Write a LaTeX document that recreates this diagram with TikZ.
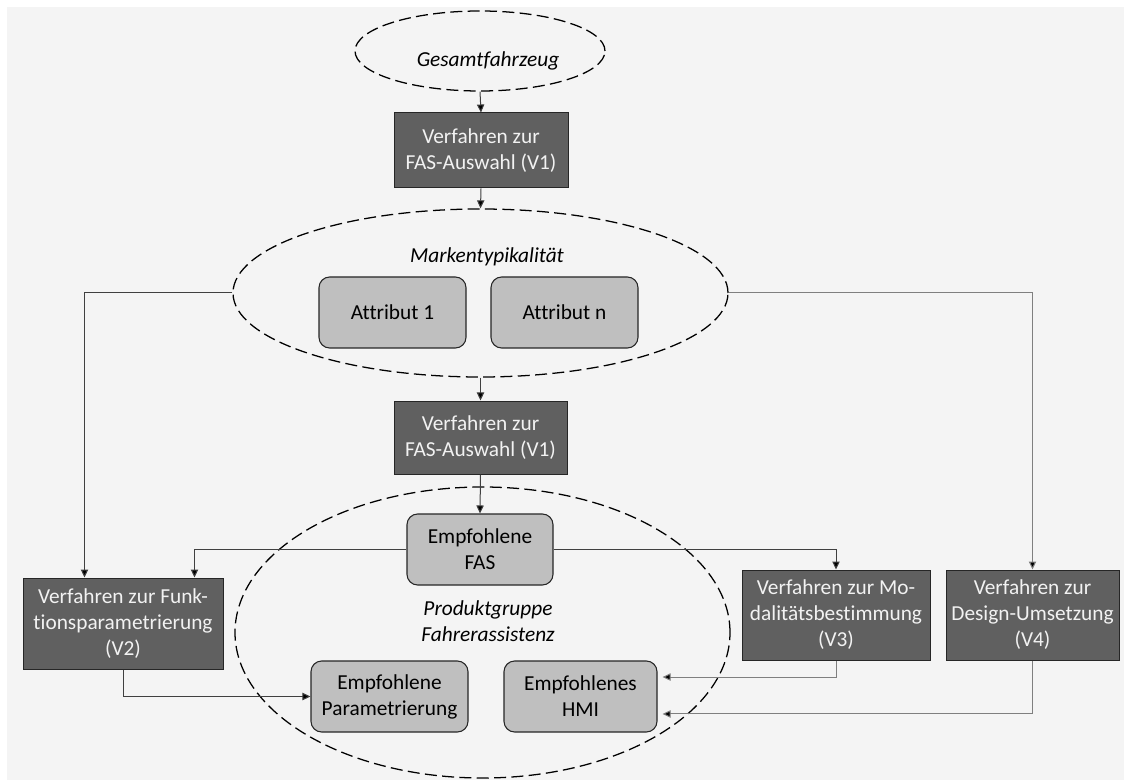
\documentclass[tikz,border=0pt]{standalone}
\usepackage{fontspec}
\setmainfont{Carlito}[Ligatures={NoCommon}]
\usetikzlibrary{shapes.geometric,arrows.meta,positioning}
\definecolor{bg}{HTML}{F4F4F4}
\definecolor{darkbox}{HTML}{606060}
\definecolor{lightbox}{HTML}{BFBFBF}
\definecolor{edgedark}{HTML}{262626}
\definecolor{conn}{HTML}{404040}
\definecolor{connlight}{HTML}{7F7F7F}
\definecolor{whitetext}{HTML}{F2F2F2}
\tikzset{
  txt/.style={font=\fontsize{16}{19.5}\selectfont, align=center},
  procbox/.style={txt, rectangle, draw=edgedark, line width=0.75pt, fill=darkbox, text=whitetext, inner sep=0pt},
  resbox/.style={txt, rectangle, rounded corners=8pt, draw=edgedark, line width=0.8pt, fill=lightbox, text=black, inner sep=0pt},
  dashell/.style={ellipse, draw=black, line width=0.95pt, dash pattern=on 9pt off 4pt, inner sep=0pt},
  arr/.style={draw=conn, line width=0.75pt, -{Triangle[length=6pt,width=5.5pt,fill=black]}},
  arrl/.style={draw=connlight, line width=0.75pt, -{Triangle[length=6pt,width=5.5pt,fill=black]}},
}
\begin{document}
\begin{tikzpicture}[x=0.75pt,y=-0.75pt]
\useasboundingbox (0,0) rectangle (1124,780);
\fill[white] (0,0) rectangle (1124,780);
\fill[bg] (7,7) rectangle (1124,780);

% ellipses
\node[dashell, minimum width=187.5pt, minimum height=60pt] (G) at (480,51) {};
\node[dashell, minimum width=371.25pt, minimum height=126pt] (M) at (480.5,293) {};
\node[dashell, minimum width=371.25pt, minimum height=218.25pt] (P) at (482.5,632.5) {};

% labels inside ellipses
\node[txt] (Glab) at (488,61) {\itshape Gesamtfahrzeug};
\node[txt] (Mlab) at (487,257) {\itshape Markentypikalität};
\node[txt] (Plab) at (488,621) {\itshape Produktgruppe\\\itshape Fahrerassistenz};

% process boxes
\node[procbox, minimum width=130.5pt, minimum height=56.25pt] (V1a) at (481,150.5) {Verfahren zur\\FAS-Auswahl (V1)};
\node[procbox, minimum width=129.75pt, minimum height=54.75pt] (V1b) at (480.5,437.5) {Verfahren zur\\FAS-Auswahl (V1)};
\node[procbox, minimum width=150pt, minimum height=68.25pt] (V2) at (123,623.5) {Verfahren zur Funk-\\tionsparametrierung\\(V2)};
\node[procbox, minimum width=141pt, minimum height=67.5pt] (V3) at (836,615) {Verfahren zur Mo-\\dalitätsbestimmung\\(V3)};
\node[procbox, minimum width=129.75pt, minimum height=67.5pt] (V4) at (1032.5,615) {Verfahren zur\\Design-Umsetzung\\(V4)};

% result boxes
\node[resbox, minimum width=110.25pt, minimum height=53.25pt] (A1) at (392.5,312.5) {Attribut 1};
\node[resbox, minimum width=110.25pt, minimum height=53.25pt] (An) at (564.5,312.5) {Attribut n};
\node[resbox, minimum width=109.5pt, minimum height=53.25pt] (FAS) at (480,549.5) {Empfohlene\\FAS};
\node[resbox, minimum width=117.75pt, minimum height=53.25pt] (Par) at (389.5,696.5) {Empfohlene\\Parametrierung};
\node[resbox, minimum width=114.75pt, minimum height=53.25pt] (HMI) at (580.5,696.5) {Empfohlenes\\HMI};

% connectors
\draw[arr] (G.south) -- (V1a.north);
\draw[arr] (V1a.south) -- (M.north);
\draw[arr] (M.south) -- (V1b.north);
\draw[arr] (V1b.south) -- (FAS.north);
\draw[arr] (M.west) -| ([xshift=46.5pt]V2.north west);
\draw[arr] (FAS.west) -| ([xshift=-21.75pt]V2.north east);
\draw[arr] (FAS.east) -| (V3.north);
\draw[arrl] (M.east) -| (V4.north);
\draw[arr] (V2.south) |- (Par.west);
\draw[arrl, shorten >=3.75pt] (V3.south) |- ([yshift=14.6pt]HMI.east);
\draw[arrl, shorten >=3.75pt] (V4.south) |- ([yshift=-13.1pt]HMI.east);
\end{tikzpicture}
\end{document}
